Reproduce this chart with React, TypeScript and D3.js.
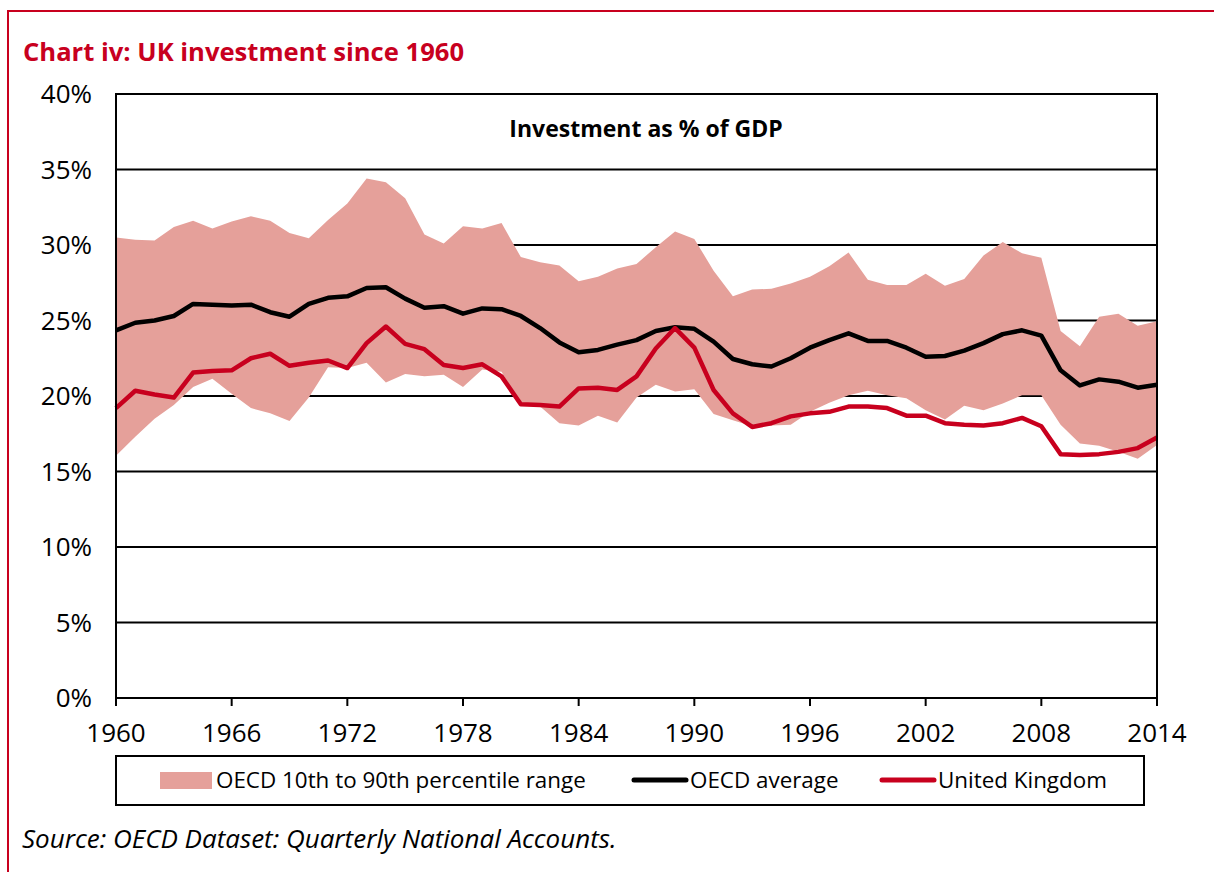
import React from "react";
import * as d3 from "d3";

const years = [
  1960, 1961, 1962, 1963, 1964, 1965, 1966, 1967, 1968, 1969,
  1970, 1971, 1972, 1973, 1974, 1975, 1976, 1977, 1978, 1979,
  1980, 1981, 1982, 1983, 1984, 1985, 1986, 1987, 1988, 1989,
  1990, 1991, 1992, 1993, 1994, 1995, 1996, 1997, 1998, 1999,
  2000, 2001, 2002, 2003, 2004, 2005, 2006, 2007, 2008, 2009,
  2010, 2011, 2012, 2013, 2014,
];

const oecdP90 = [
  30.5, 30.35, 30.3, 31.2, 31.6, 31.1, 31.55, 31.9, 31.6, 30.8,
  30.45, 31.65, 32.75, 34.4, 34.15, 33.1, 30.7, 30.1, 31.25, 31.1,
  31.45, 29.2, 28.85, 28.65, 27.6, 27.9, 28.45, 28.75, 29.85, 30.9,
  30.4, 28.3, 26.6, 27.05, 27.1, 27.45, 27.9, 28.6, 29.5, 27.7,
  27.35, 27.35, 28.1, 27.3, 27.75, 29.3, 30.2, 29.45, 29.15, 24.3,
  23.3, 25.25, 25.45, 24.65, 24.95,
];

const oecdP10 = [
  16.05, 17.3, 18.5, 19.4, 20.6, 21.15, 20.15, 19.2, 18.85, 18.35,
  19.9, 21.9, 21.85, 22.2, 20.9, 21.45, 21.3, 21.4, 20.6, 21.75,
  21.6, 19.45, 19.3, 18.2, 18.05, 18.7, 18.25, 19.9, 20.75, 20.3,
  20.45, 18.8, 18.4, 18.0, 18.05, 18.1, 18.95, 19.55, 20.05, 20.35,
  20.05, 19.85, 19.05, 18.45, 19.35, 19.05, 19.5, 20.05, 20.05, 18.1,
  16.85, 16.7, 16.3, 15.85, 16.75,
];

const oecdAverage = [
  24.35, 24.85, 25.0, 25.3, 26.1, 26.05, 26.0, 26.05, 25.55, 25.25,
  26.1, 26.5, 26.6, 27.15, 27.2, 26.45, 25.85, 25.95, 25.45, 25.8,
  25.75, 25.3, 24.5, 23.55, 22.9, 23.05, 23.4, 23.7, 24.3, 24.55,
  24.45, 23.6, 22.45, 22.1, 21.95, 22.5, 23.2, 23.7, 24.15, 23.65,
  23.65, 23.2, 22.6, 22.65, 23.0, 23.5, 24.1, 24.35, 24.0, 21.7,
  20.7, 21.1, 20.95, 20.55, 20.75,
];

const unitedKingdom = [
  19.2, 20.35, 20.1, 19.9, 21.55, 21.65, 21.7, 22.5, 22.8, 22.0,
  22.2, 22.35, 21.85, 23.5, 24.6, 23.45, 23.1, 22.05, 21.85, 22.1,
  21.3, 19.45, 19.4, 19.3, 20.5, 20.55, 20.4, 21.3, 23.15, 24.5,
  23.2, 20.4, 18.85, 17.95, 18.2, 18.65, 18.85, 18.95, 19.3, 19.3,
  19.2, 18.7, 18.7, 18.2, 18.1, 18.05, 18.2, 18.55, 18.0, 16.15,
  16.1, 16.15, 16.3, 16.55, 17.25,
];

const xTickYears = [1960, 1966, 1972, 1978, 1984, 1990, 1996, 2002, 2008, 2014];
const yTicks = [0, 5, 10, 15, 20, 25, 30, 35, 40];

const chartTitle = "Chart iv: UK investment since 1960";
const innerTitle = "Investment as % of GDP";
const legendLabels = ["OECD 10th to 90th percentile range", "OECD average", "United Kingdom"];
const sourceText = "Source: OECD Dataset: Quarterly National Accounts.";

const RED = "#C8001E";
const BAND = "#E5A09A";
const FONT = "'Open Sans', 'Noto Sans', sans-serif";

export default function App() {
  const W = 1214;
  const H = 872;
  const left = 116;
  const right = 1157;
  const top = 94;
  const bottom = 698;

  const x = d3.scaleLinear().domain([1960, 2014]).range([left, right]);
  const y = d3.scaleLinear().domain([0, 40]).range([bottom, top]);

  const rows = years.map((yr, i) => ({
    yr,
    lo: oecdP10[i],
    hi: oecdP90[i],
    avg: oecdAverage[i],
    uk: unitedKingdom[i],
  }));

  const area = d3
    .area<any>()
    .x((d) => x(d.yr))
    .y0((d) => y(d.lo))
    .y1((d) => y(d.hi));
  const avgLine = d3
    .line<any>()
    .x((d) => x(d.yr))
    .y((d) => y(d.avg));
  const ukLine = d3
    .line<any>()
    .x((d) => x(d.yr))
    .y((d) => y(d.uk));

  return (
    <svg
      width={W}
      height={H}
      style={{ position: "absolute", left: 0, top: 0, background: "#fff" }}
      fontFamily={FONT}
    >
      {/* red frame */}
      <line x1={7} x2={W} y1={11} y2={11} stroke={RED} strokeWidth={2} />
      <line x1={8} x2={8} y1={10} y2={H} stroke={RED} strokeWidth={2} />

      <text x={23} y={61} fill={RED} fontSize={25.6} fontWeight="bold">
        {chartTitle}
      </text>

      {/* gridlines */}
      {yTicks.map((t) => (
        <line
          key={"g" + t}
          x1={left}
          x2={right}
          y1={y(t)}
          y2={y(t)}
          stroke="#000"
          strokeWidth={2}
        />
      ))}

      <path d={area(rows) || ""} fill={BAND} stroke="none" />
      <path
        d={avgLine(rows) || ""}
        fill="none"
        stroke="#000"
        strokeWidth={4.5}
        strokeLinejoin="round"
      />
      <path
        d={ukLine(rows) || ""}
        fill="none"
        stroke={RED}
        strokeWidth={4.5}
        strokeLinejoin="round"
      />

      {/* frame */}
      <rect
        x={left}
        y={top}
        width={right - left}
        height={bottom - top}
        fill="none"
        stroke="#000"
        strokeWidth={2}
      />

      <text x={646} y={137} textAnchor="middle" fontSize={23} fontWeight="bold" fill="#000">
        {innerTitle}
      </text>

      {/* y axis labels */}
      {yTicks.map((t) => (
        <text
          key={"yl" + t}
          x={92}
          y={y(t) + 9}
          textAnchor="end"
          fontSize={26}
          fill="#000"
        >
          {t + "%"}
        </text>
      ))}

      {/* x ticks */}
      {xTickYears.map((yr) => (
        <g key={"x" + yr}>
          <line x1={x(yr)} x2={x(yr)} y1={bottom} y2={bottom + 8} stroke="#000" strokeWidth={2} />
          <text x={x(yr)} y={742} textAnchor="middle" fontSize={26} fill="#000">
            {yr}
          </text>
        </g>
      ))}

      {/* legend */}
      <rect x={116} y={756} width={1028} height={49} fill="#fff" stroke="#000" strokeWidth={2} />
      <rect x={160} y={772} width={52} height={17} fill={BAND} />
      <text x={216} y={788} fontSize={22.4} fill="#000">
        {legendLabels[0]}
      </text>
      <line x1={634} x2={686} y1={780} y2={780} stroke="#000" strokeWidth={5} strokeLinecap="round" />
      <text x={690} y={788} fontSize={22.4} fill="#000">
        {legendLabels[1]}
      </text>
      <line x1={882} x2={934} y1={780} y2={780} stroke={RED} strokeWidth={5} strokeLinecap="round" />
      <text x={938} y={788} fontSize={22.4} fill="#000">
        {legendLabels[2]}
      </text>

      <text x={22} y={848} fontSize={26} fontStyle="italic" fill="#000">
        {sourceText}
      </text>
    </svg>
  );
}
